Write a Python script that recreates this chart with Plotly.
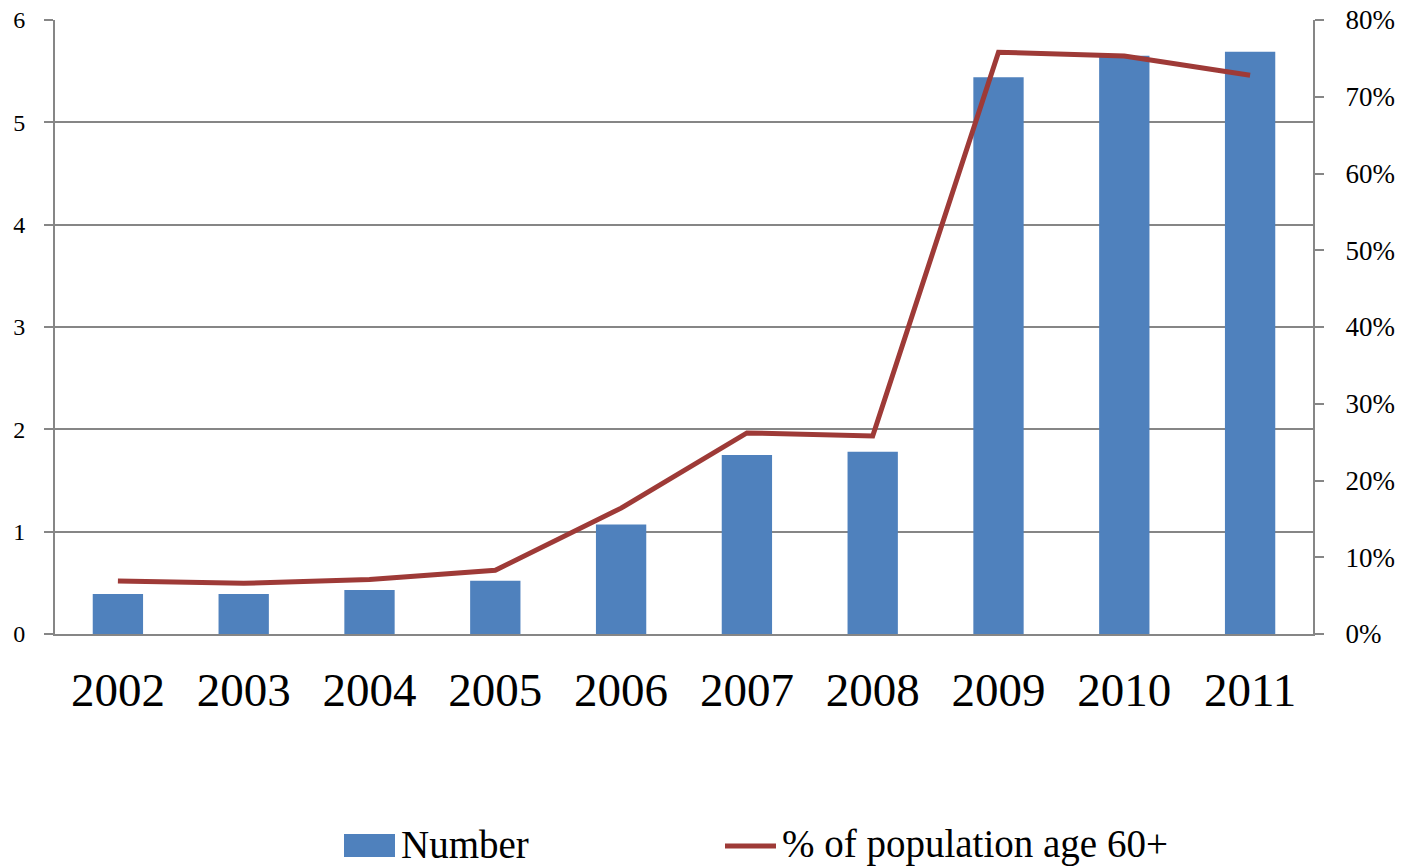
import plotly.graph_objects as go

# Data
years = ["2002", "2003", "2004", "2005", "2006", "2007", "2008", "2009", "2010", "2011"]
number = [0.39, 0.39, 0.43, 0.52, 1.07, 1.75, 1.78, 5.44, 5.65, 5.69]
pct_60plus = [0.069, 0.066, 0.071, 0.083, 0.164, 0.262, 0.258, 0.758, 0.753, 0.728]

bar_name = "Number"
line_name = "% of population age 60+"

BLUE = "#4F81BD"
RED = "#9E3A37"
GRID = "#868686"
FONT = "Liberation Serif"

fig = go.Figure()
fig.add_trace(go.Bar(x=years, y=number, name=bar_name, marker_color=BLUE,
                     marker_line_width=0, showlegend=False, yaxis="y"))
fig.add_trace(go.Scatter(x=years, y=pct_60plus, name=line_name, mode="lines",
                         line=dict(color=RED, width=5), showlegend=False, yaxis="y2"))

# Custom legend below the plot (paper coordinates)
W, H = 1406, 867
ml, mr, mt, mb = 55, 93, 20, 233
pw, ph = W - ml - mr, H - mt - mb


def px(x):
    return (x - ml) / pw


def py(y):
    return (H - mb - y) / ph


fig.add_shape(type="rect", xref="paper", yref="paper",
              x0=px(344), x1=px(395), y0=py(857), y1=py(834),
              fillcolor=BLUE, line_width=0)
fig.add_shape(type="line", xref="paper", yref="paper",
              x0=px(725), x1=px(776), y0=py(846), y1=py(846),
              line=dict(color=RED, width=5))
fig.add_annotation(xref="paper", yref="paper", x=px(399), y=py(844),
                   xanchor="left", yanchor="middle", showarrow=False,
                   text=bar_name, font=dict(family=FONT, size=39, color="black"))
fig.add_annotation(xref="paper", yref="paper", x=px(780), y=py(844),
                   xanchor="left", yanchor="middle", showarrow=False,
                   text=line_name, font=dict(family=FONT, size=39, color="black"))

fig.update_layout(
    width=W, height=H,
    margin=dict(l=ml, r=mr, t=mt, b=mb, autoexpand=False),
    plot_bgcolor="white", paper_bgcolor="white",
    bargap=0.6,
    font=dict(family=FONT, color="black"),
    xaxis=dict(
        showgrid=False, showline=True, linecolor=GRID, linewidth=2,
        ticks="", tickfont=dict(family=FONT, size=47), ticklabelstandoff=14,
        automargin=False,
    ),
    yaxis=dict(
        range=[0, 6], dtick=1, showgrid=True, gridcolor=GRID, gridwidth=1.5,
        showline=True, linecolor=GRID, linewidth=2, zeroline=False,
        ticks="outside", ticklen=9, tickcolor=GRID, tickwidth=1.5,
        tickfont=dict(family=FONT, size=24), ticklabelstandoff=14,
        automargin=False,
    ),
    yaxis2=dict(
        range=[0, 0.8], dtick=0.1, tickformat=".0%", overlaying="y", side="right",
        showgrid=False, showline=True, linecolor=GRID, linewidth=2, zeroline=False,
        ticks="outside", ticklen=9, tickcolor=GRID, tickwidth=1.5,
        tickfont=dict(family=FONT, size=27), ticklabelstandoff=16,
        automargin=False,
    ),
)

fig.write_html("out.html")
